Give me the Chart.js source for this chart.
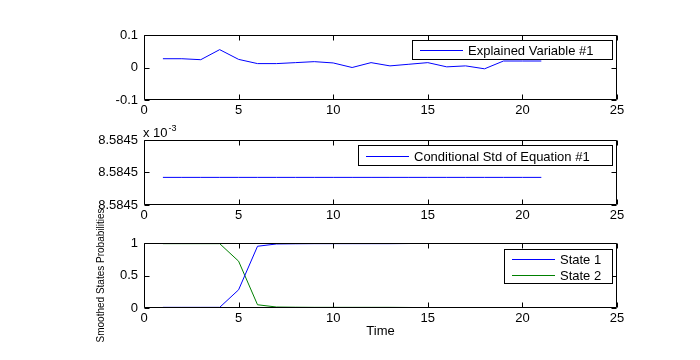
<!DOCTYPE html>
<html><head><meta charset="utf-8">
<script src="https://cdn.jsdelivr.net/npm/chart.js@4.4.0/dist/chart.umd.min.js"></script>
<style>
html,body{margin:0;padding:0;background:#fff;}
#wrap{position:relative;width:700px;height:360px;overflow:hidden;background:#fff;}
canvas{position:absolute;left:0;}
</style></head><body>
<div id="wrap">
<canvas id="c1" width="700" height="125" style="top:0px"></canvas>
<canvas id="c2" width="700" height="115" style="top:105px"></canvas>
<canvas id="c3" width="700" height="165" style="top:195px"></canvas>
</div>
<script>
// ---- data ----
const timeIndex = [1,2,3,4,5,6,7,8,9,10,11,12,13,14,15,16,17,18,19,20,21];
const explainedVariable = [0.027,0.027,0.024,0.055,0.025,0.012,0.012,0.015,0.018,0.014,0.000,0.015,0.005,0.010,0.015,0.002,0.005,-0.004,0.020,0.020,0.020];
const conditionalStd = [8.584497,8.584497,8.584497,8.584497,8.584497,8.584497,8.584497,8.584497,8.584497,8.584497,8.584497,8.584497,8.584497,8.584497,8.584497,8.584497,8.584497,8.584497,8.584497,8.584497,8.584497];
const state1 = [0.01,0.01,0.01,0.01,0.28,0.95,0.985,0.988,0.99,0.99,0.99,0.99,0.99,0.992,0.994,0.995,0.998,0.999,0.999,0.999,0.999];
const state2 = [0.99,0.99,0.99,0.99,0.72,0.05,0.015,0.012,0.01,0.01,0.01,0.01,0.01,0.008,0.006,0.005,0.002,0.001,0.001,0.001,0.001];
const xTickValues = [0,5,10,15,20,25];
const topYTicks = [-0.1,0,0.1];
const stdYTicks = [8.58448,8.58450,8.58452];
const stdYTickLabels = ['8.5845','8.5845','8.5845'];
const probYTicks = [0,0.5,1];
const seriesLabels = ['Explained Variable #1','Conditional Std of Equation #1','State 1','State 2'];
const xTitle = 'Time';
const probYTitle = 'Smoothed States Probabilities';

const FONT = '"Liberation Sans", Arial, Helvetica, sans-serif';
const BLUE = '#0000ff', GREEN = '#008000';

function pts(vals){ return timeIndex.map((t,i)=>({x:t,y:vals[i]})); }

const matlabAxes = {
  id:'matlabAxes',
  afterDatasetsDraw(chart, args, o){
    const {ctx, chartArea:a, scales:{x,y}} = chart;
    ctx.save();
    ctx.strokeStyle='#000'; ctx.lineWidth=1;
    const L=Math.round(a.left)+0.5, R=Math.round(a.right)-0.5, T=Math.round(a.top)+0.5, B=Math.round(a.bottom)-0.5;
    ctx.beginPath();
    ctx.rect(L,T,R-L,B-T);
    x.ticks.forEach(t=>{const p=Math.round(x.getPixelForValue(t.value))+0.5; ctx.moveTo(p,B); ctx.lineTo(p,B-5); ctx.moveTo(p,T); ctx.lineTo(p,T+5);});
    y.ticks.forEach(t=>{const p=Math.round(y.getPixelForValue(t.value))+0.5; ctx.moveTo(L,p); ctx.lineTo(L+5,p); ctx.moveTo(R,p); ctx.lineTo(R-5,p);});
    ctx.stroke();
    const lg=o.legend;
    if(lg){
      ctx.fillStyle='#fff';
      ctx.fillRect(lg.left,lg.top,lg.right-lg.left,lg.bottom-lg.top);
      ctx.strokeRect(lg.left+0.5,lg.top+0.5,lg.right-lg.left-1,lg.bottom-lg.top-1);
      const ds=chart.data.datasets, n=ds.length, cy=(lg.top+lg.bottom)/2;
      ctx.font='13px '+FONT; ctx.textBaseline='middle'; ctx.textAlign='left';
      ds.forEach((d,i)=>{
        const yy=Math.round(cy+(i-(n-1)/2)*16)+0.5;
        ctx.strokeStyle=d.borderColor; ctx.beginPath(); ctx.moveTo(lg.left+8,yy); ctx.lineTo(lg.left+51,yy); ctx.stroke();
        ctx.fillStyle='#000'; ctx.fillText(d.label, lg.left+56, yy+0.5);
      });
    }
    if(o.exponent){
      ctx.fillStyle='#000'; ctx.textAlign='left'; ctx.textBaseline='alphabetic';
      ctx.font='13px '+FONT;
      const x0=a.left-1, base=a.top-3;
      ctx.fillText('x 10', x0, base);
      const w=ctx.measureText('x 10').width;
      ctx.font='9px '+FONT;
      ctx.fillText(o.exponent, x0+w+1, base-6);
    }
    if(o.yTitle){
      ctx.fillStyle='#000'; ctx.font='10px '+FONT; ctx.textAlign='center'; ctx.textBaseline='middle';
      ctx.translate(o.yTitleX,(a.top+a.bottom)/2);
      ctx.rotate(-Math.PI/2);
      ctx.fillText(o.yTitle,0,0);
    }
    ctx.restore();
  }
};

function makeChart(id, H, areaTop, areaBottom, xAxisH, datasets, yMin, yMax, yTicks, yLabels, pluginOpts, showXTitle){
  return new Chart(document.getElementById(id), {
    type:'line',
    data:{datasets},
    options:{
      responsive:false, animation:false, devicePixelRatio:1,
      layout:{padding:{left:0,right:83,top:areaTop,bottom:H-areaBottom-xAxisH}},
      plugins:{legend:{display:false},tooltip:{enabled:false},matlabAxes:pluginOpts},
      elements:{point:{radius:0},line:{borderWidth:1,tension:0}},
      scales:{
        x:{type:'linear',min:0,max:25,
          afterFit(s){s.height=xAxisH;},
          afterBuildTicks(s){s.ticks=xTickValues.map(v=>({value:v}));},
          grid:{display:false,drawTicks:false},border:{display:false},
          ticks:{padding:3,color:'#000',font:{family:FONT,size:13},maxRotation:0,autoSkip:false},
          title:{display:!!showXTitle,text:xTitle,color:'#000',font:{family:FONT,size:13},padding:{top:0,bottom:-1}}
        },
        y:{type:'linear',min:yMin,max:yMax,
          afterFit(s){s.width=144;},
          afterBuildTicks(s){s.ticks=yTicks.map(v=>({value:v}));},
          grid:{display:false,drawTicks:false},border:{display:false},
          ticks:{padding:6,color:'#000',font:{family:FONT,size:13},
            callback:(v,i)=>yLabels?yLabels[i]:String(Math.round(v*1000)/1000)}
        }
      }
    },
    plugins:[matlabAxes]
  });
}

makeChart('c1',125,35,100,25,
  [{label:seriesLabels[0],data:pts(explainedVariable),borderColor:BLUE,fill:false}],
  -0.1,0.1,topYTicks,null,
  {legend:{left:412,top:40,right:613,bottom:60}});

makeChart('c2',115,35,100,15,
  [{label:seriesLabels[1],data:pts(conditionalStd),borderColor:BLUE,fill:false}],
  8.58448,8.58452,stdYTicks,stdYTickLabels,
  {legend:{left:358,top:40,right:613,bottom:61},exponent:'-3'});

makeChart('c3',165,48,113,30,
  [{label:seriesLabels[2],data:pts(state1),borderColor:BLUE,fill:false},
   {label:seriesLabels[3],data:pts(state2),borderColor:GREEN,fill:false}],
  0,1,probYTicks,null,
  {legend:{left:504,top:54,right:613,bottom:89},yTitle:probYTitle,yTitleX:101},true);
</script>
</body></html>
